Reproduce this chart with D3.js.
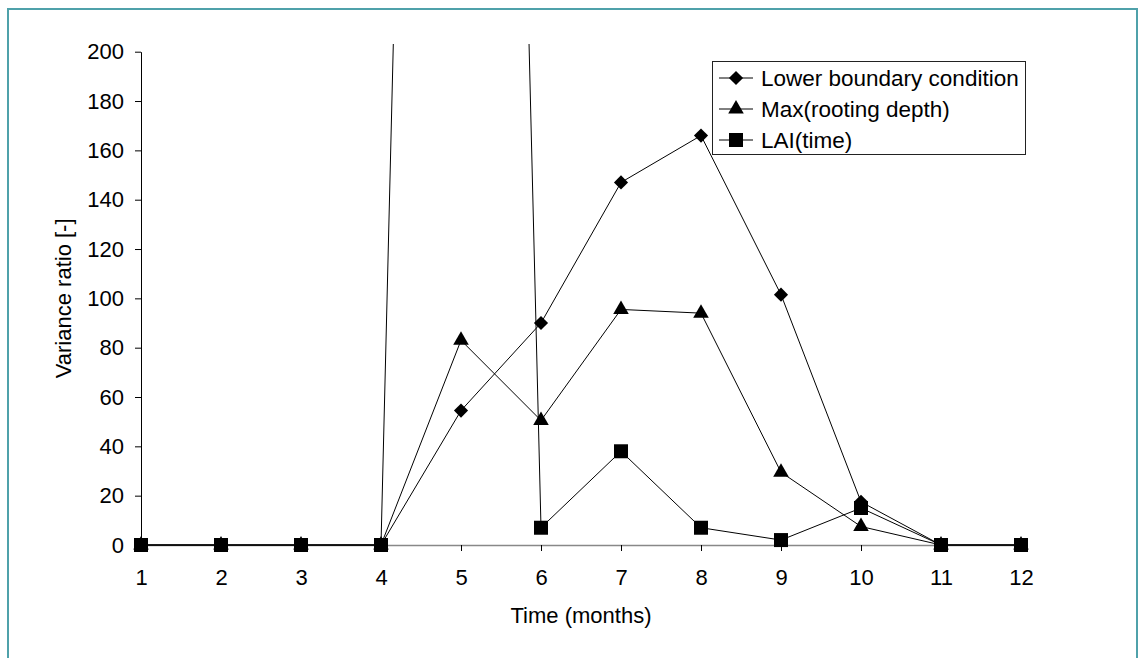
<!DOCTYPE html>
<html>
<head>
<meta charset="utf-8">
<script src="https://cdn.jsdelivr.net/npm/d3@7"></script>
<style>
    body { margin: 0; background: #fff; }
    text { font-family: Arial, 'Liberation Sans', sans-serif; fill: #000; }
    .axis text { font-size: 22px; }
    .axisLabel text { font-size: 22px; }
    .legend text { font-size: 22.5px; }
</style>
</head>
<body>
<script>
const months = [1, 2, 3, 4, 5, 6, 7, 8, 9, 10, 11, 12];
const lowerBoundary = [0, 0, 0, 0, 54.5, 90, 147, 166, 101.5, 17.5, 0, 0];
const maxRooting = [0, 0, 0, 0, 83, 50.5, 95.5, 94, 29.5, 7.5, 0, 0];
const laiTime = [0, 0, 0, 0, 1320, 7, 38, 7, 2, 15, 0, 0];
const yTicks = [0, 20, 40, 60, 80, 100, 120, 140, 160, 180, 200];
const seriesNames = ['Lower boundary condition', 'Max(rooting depth)', 'LAI(time)'];

const width = 1143;
const height = 658;
const plot = {left: 141, right: 1021, top: 51.7, bottom: 545};

const svg = d3.select('body').append('svg')
    .attr('width', width)
    .attr('height', height);

// teal frame round the whole chart
svg.append('rect')
    .attr('x', 8)
    .attr('y', 9)
    .attr('width', 1129)
    .attr('height', 680)
    .attr('fill', 'none')
    .attr('stroke', '#4fa1aa')
    .attr('stroke-width', 2);

const xScale = d3.scaleLinear()
    .domain([1, 12])
    .range([plot.left, plot.right]);

const yScale = d3.scaleLinear()
    .domain([0, 200])
    .range([plot.bottom, plot.top]);

const xAxis = d3.axisBottom(xScale)
    .tickValues(months)
    .tickFormat(d3.format('d'))
    .tickSize(6)
    .tickSizeOuter(0)
    .tickPadding(18);

const yAxis = d3.axisLeft(yScale)
    .tickValues(yTicks)
    .tickSize(6)
    .tickSizeOuter(0)
    .tickPadding(11);

const xGroup = svg.append('g')
    .attr('class', 'axis')
    .attr('transform', `translate(0, ${plot.bottom})`)
    .call(xAxis);
xGroup.select('.domain').attr('stroke', '#888').attr('stroke-width', 1.5);
xGroup.selectAll('.tick line').attr('stroke', '#000');

svg.append('g')
    .attr('class', 'axis')
    .attr('transform', `translate(${plot.left}, 0)`)
    .call(yAxis);

svg.selectAll('.axis text').attr('fill', '#000');

drawLabels(svg);

svg.append('clipPath')
    .attr('id', 'plotClip')
    .append('rect')
        .attr('x', 0)
        .attr('y', 44)
        .attr('width', width)
        .attr('height', height - 44);

const series = [
    {name: seriesNames[0], values: lowerBoundary, symbol: 'diamond'},
    {name: seriesNames[1], values: maxRooting, symbol: 'triangle'},
    {name: seriesNames[2], values: laiTime, symbol: 'square'}
];

const line = d3.line()
    .x((d, i) => xScale(months[i]))
    .y(d => yScale(d));

const plotArea = svg.append('g').attr('clip-path', 'url(#plotClip)');

series.forEach(s => {
    plotArea.append('path')
        .datum(s.values)
        .attr('d', line)
        .attr('fill', 'none')
        .attr('stroke', '#000')
        .attr('stroke-width', 1);
});

series.forEach(s => {
    const pts = s.values
        .map((v, i) => ({month: months[i], value: v}))
        .filter(p => p.value <= 200);
    plotArea.selectAll(null)
        .data(pts)
        .enter()
        .append('path')
        .attr('d', markerPath(s.symbol))
        .attr('transform', d => markerTransform(s.symbol, xScale(d.month), yScale(d.value)))
        .attr('fill', '#000');
});

drawLegend(svg, series);

function markerPath(symbol) {
    if (symbol == 'diamond') {
        return d3.symbol().type(d3.symbolSquare).size(100)();
    } else if (symbol == 'triangle') {
        return d3.symbol().type(d3.symbolTriangle).size(105)();
    }
    return d3.symbol().type(d3.symbolSquare).size(196)();
}

function markerTransform(symbol, x, y) {
    if (symbol == 'diamond') {
        return `translate(${x}, ${y}) rotate(45)`;
    }
    return `translate(${x}, ${y})`;
}

function drawLegend(surface, list) {
    const legend = surface.append('g')
        .attr('class', 'legend');

    legend.append('rect')
        .attr('x', 712.5)
        .attr('y', 61.5)
        .attr('width', 313)
        .attr('height', 93)
        .attr('fill', '#fff')
        .attr('stroke', '#222')
        .attr('stroke-width', 1);

    list.forEach((s, i) => {
        const cy = 78 + i * 31;
        legend.append('line')
            .attr('x1', 719)
            .attr('x2', 753)
            .attr('y1', cy)
            .attr('y2', cy)
            .attr('stroke', '#000')
            .attr('stroke-width', 1);
        legend.append('path')
            .attr('d', markerPath(s.symbol))
            .attr('transform', markerTransform(s.symbol, 736, cy))
            .attr('fill', '#000');
        legend.append('text')
            .text(s.name)
            .attr('x', 761)
            .attr('y', cy + 8);
    });
}

function drawLabels(surface) {
    surface.append('g')
        .attr('class', 'axisLabel')
        .append('text')
        .text('Time (months)')
        .attr('x', (plot.left + plot.right) / 2)
        .attr('y', 623)
        .attr('text-anchor', 'middle');

    const cy = (plot.top + plot.bottom) / 2;
    surface.append('g')
        .attr('class', 'axisLabel')
        .append('text')
        .text('Variance ratio [-]')
        .attr('x', 71)
        .attr('y', cy)
        .attr('text-anchor', 'middle')
        .attr('transform', `rotate(-90, 71, ${cy})`);
}
</script>
</body>
</html>
